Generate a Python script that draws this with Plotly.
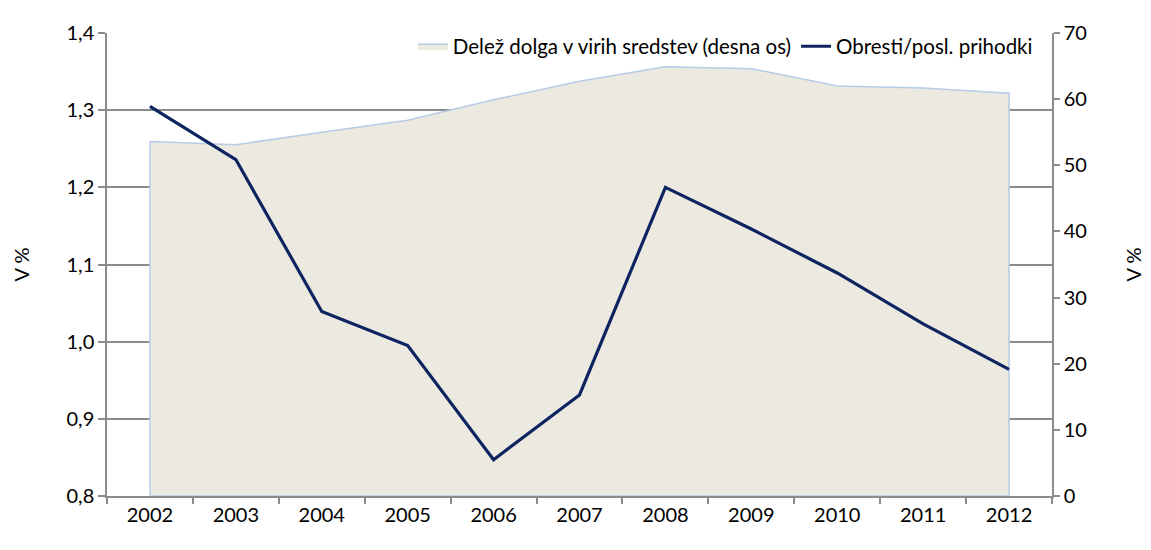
import plotly.graph_objects as go

years = ["2002", "2003", "2004", "2005", "2006", "2007", "2008", "2009", "2010", "2011", "2012"]
delez_dolga = [53.6, 53.1, 55.0, 56.8, 59.9, 62.7, 64.9, 64.6, 62.0, 61.7, 60.9]
obresti = [1.305, 1.236, 1.039, 0.995, 0.847, 0.931, 1.200, 1.146, 1.089, 1.023, 0.964]

name_area = "Delež dolga v virih sredstev (desna os)"
name_line = "Obresti/posl. prihodki"

FONT = "Lato"
GRID = "#8c8c8c"

# closed area polygon built from the data (down to the axis baseline)
area_x = years + [years[-1], years[0], years[0]]
area_y = delez_dolga + [0, 0, delez_dolga[0]]

fig = go.Figure()
fig.add_trace(go.Scatter(
    x=area_x, y=area_y, name=name_area, yaxis="y",
    mode="lines", fill="toself", fillcolor="#ECEAE0",
    line=dict(color="#B7CBE6", width=1.5),
))
fig.add_trace(go.Scatter(
    x=years, y=obresti, name=name_line, yaxis="y2",
    mode="lines", line=dict(color="#0E2461", width=3.2),
))

fig.update_layout(
    width=1151, height=550,
    margin=dict(l=99, r=107, t=15, b=62),
    paper_bgcolor="white", plot_bgcolor="white",
    separators=",.",
    font=dict(family=FONT, size=20, color="#000000"),
    showlegend=True,
    legend=dict(orientation="h", x=0.985, xanchor="right", y=0.971, yanchor="middle",
                bgcolor="rgba(0,0,0,0)", font=dict(size=20.5), traceorder="normal"),
    xaxis=dict(type="category", categoryorder="array", categoryarray=years,
               range=[-0.5, 10.5], tickson="boundaries",
               ticks="outside", ticklen=6, tickcolor=GRID, tickwidth=1.5,
               showline=True, linecolor=GRID, linewidth=1.5, showgrid=False,
               tickfont=dict(size=20)),
    yaxis=dict(side="right", range=[0, 70], dtick=10, showgrid=False,
               ticks="outside", ticklen=6, tickcolor=GRID, tickwidth=1.5,
               showline=True, linecolor=GRID, linewidth=1.5, zeroline=False,
               title=dict(text="V %", standoff=41, font=dict(size=20))),
    yaxis2=dict(side="left", overlaying="y", range=[0.8, 1.4], dtick=0.1,
                tickformat=".1f", showgrid=True, gridcolor=GRID, gridwidth=1.5,
                ticks="outside", ticklen=7, tickcolor=GRID, tickwidth=1.5,
                showline=True, linecolor=GRID, linewidth=1.5, zeroline=False,
                title=dict(text="V %", standoff=32, font=dict(size=20))),
)

fig.write_html("out.html")
